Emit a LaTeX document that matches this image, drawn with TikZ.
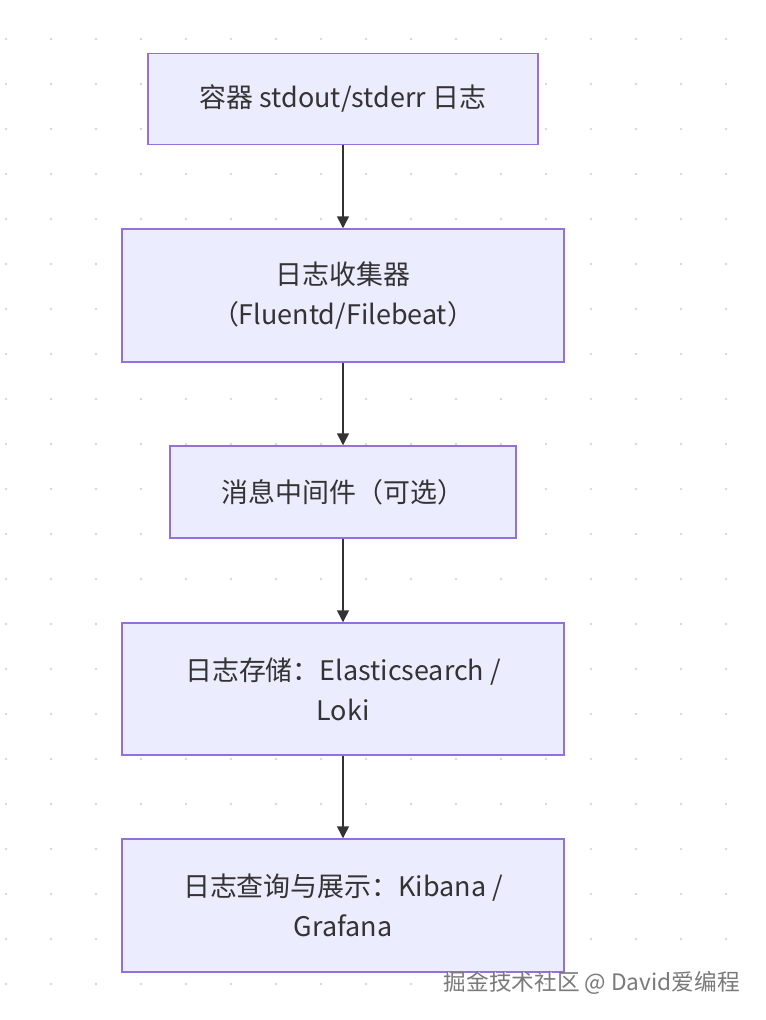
\documentclass[tikz,border=0pt]{standalone}
\usepackage{fontspec}
\setmainfont{Noto Sans CJK SC}
\usetikzlibrary{arrows.meta}
\definecolor{boxfill}{HTML}{ECECFF}
\definecolor{boxline}{HTML}{9370DB}
\definecolor{txt}{HTML}{333333}
\definecolor{dotc}{HTML}{D8D8D8}
\definecolor{wm}{HTML}{7A7A7A}
\tikzset{
  flowbox/.style={draw=boxline, fill=boxfill, line width=1.1pt, text=txt,
    font=\fontsize{20.2}{30}\selectfont, align=center, inner sep=0pt},
  flowarrow/.style={draw=txt, line width=1.1pt, -{Triangle[length=9pt,width=9pt]}}
}
\begin{document}
\begin{tikzpicture}[x=0.75pt,y=-0.75pt]
\useasboundingbox (0,0) rectangle (765,1020);
\fill[white] (0,0) rectangle (765,1020);
% dot grid
\foreach \i in {0,...,16}{
  \foreach \j in {0,...,21}{
    \fill[dotc] (6+45*\i,39+45*\j) circle (1.3);
  }
}
% boxes
\node[flowbox, minimum width=390*0.75pt, minimum height=91*0.75pt] (a) at (343,99) {容器 stdout/stderr 日志};
\node[flowbox, minimum width=442*0.75pt, minimum height=133*0.75pt] (b) at (343,295.5) {日志收集器\\（Fluentd/Filebeat）};
\node[flowbox, minimum width=346*0.75pt, minimum height=92*0.75pt] (c) at (343,492) {消息中间件（可选）};
\node[flowbox, minimum width=442*0.75pt, minimum height=132*0.75pt] (d) at (343,689) {日志存储：Elasticsearch /\\Loki};
\node[flowbox, minimum width=442*0.75pt, minimum height=133*0.75pt] (e) at (343,905.5) {日志查询与展示：Kibana /\\Grafana};
% arrows
\draw[flowarrow] (a.south) -- (b.north);
\draw[flowarrow] (b.south) -- (c.north);
\draw[flowarrow] (c.south) -- (d.north);
\draw[flowarrow] (d.south) -- (e.north);
% watermark
\node[text=white, font=\fontsize{17}{20}\selectfont, anchor=east, inner sep=0pt] (wm2) at (741,984) {掘金技术社区 @ David爱编程};
\node[text=wm, font=\fontsize{17}{20}\selectfont, anchor=east, inner sep=0pt] (wm) at (740,983) {掘金技术社区 @ David爱编程};
\end{tikzpicture}
\end{document}
